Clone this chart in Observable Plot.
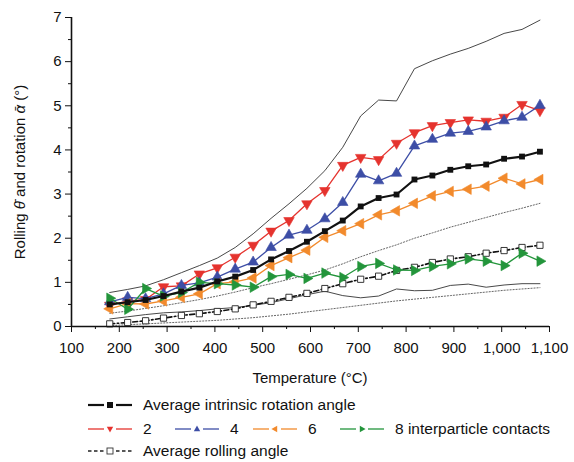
<!DOCTYPE html>
<html><head><meta charset="utf-8">
<script src="https://cdn.jsdelivr.net/npm/d3@7"></script>
<script src="https://cdn.jsdelivr.net/npm/@observablehq/plot@0.6"></script>
<style>
body{margin:0;background:#fff;font-family:"Liberation Sans",Arial,sans-serif;}
#wrap{position:relative;width:574px;height:462px;overflow:hidden;}
.leg{position:absolute;font-size:15.5px;line-height:18px;color:#111;display:flex;align-items:center;white-space:nowrap;height:18px;}
.leg svg{margin-right:11px;}
</style></head><body>
<div id="wrap"><div id="chart"></div><div id="legend"></div></div>
<script>
const temps = [180, 217.5, 255, 292.5, 330, 367.5, 405, 442.5, 480, 517.5, 555, 592.5, 630, 667.5, 705, 742.5, 780, 817.5, 855, 892.5, 930, 967.5, 1005, 1042.5, 1080];
const avgRotation = [0.50, 0.55, 0.60, 0.69, 0.79, 0.88, 1.02, 1.13, 1.28, 1.52, 1.71, 1.92, 2.16, 2.40, 2.72, 2.91, 2.99, 3.33, 3.42, 3.55, 3.63, 3.67, 3.80, 3.85, 3.96];
const contacts2 = [0.48, 0.58, 0.61, 0.90, 0.92, 1.19, 1.33, 1.57, 1.84, 2.16, 2.40, 2.78, 3.08, 3.65, 3.83, 3.78, 4.15, 4.39, 4.55, 4.62, 4.68, 4.65, 4.74, 5.03, 4.89];
const contacts4 = [0.56, 0.66, 0.63, 0.74, 0.93, 0.99, 1.12, 1.30, 1.46, 1.79, 2.07, 2.18, 2.44, 2.81, 3.45, 3.30, 3.47, 4.09, 4.24, 4.38, 4.42, 4.52, 4.66, 4.74, 5.01];
const contacts6 = [0.40, 0.52, 0.51, 0.58, 0.66, 0.74, 0.97, 1.01, 1.10, 1.38, 1.56, 1.73, 2.02, 2.17, 2.33, 2.53, 2.62, 2.79, 2.96, 3.06, 3.11, 3.18, 3.36, 3.23, 3.33];
const contacts8 = [0.64, 0.39, 0.86, 0.69, 0.77, 1.00, 0.97, 0.94, 0.89, 1.13, 1.18, 1.09, 1.21, 1.11, 1.36, 1.43, 1.28, 1.27, 1.36, 1.42, 1.53, 1.48, 1.38, 1.66, 1.48];
const avgRolling = [0.06, 0.09, 0.13, 0.19, 0.25, 0.29, 0.34, 0.40, 0.49, 0.57, 0.66, 0.75, 0.86, 0.97, 1.07, 1.14, 1.27, 1.34, 1.45, 1.53, 1.58, 1.66, 1.72, 1.79, 1.84];
const rotationUpper = [0.77, 0.84, 0.92, 1.06, 1.22, 1.38, 1.55, 1.79, 2.10, 2.45, 2.78, 3.13, 3.53, 4.06, 4.77, 5.13, 5.11, 5.84, 6.02, 6.17, 6.30, 6.46, 6.64, 6.73, 6.94];
const rotationLower = [0.17, 0.22, 0.27, 0.31, 0.33, 0.36, 0.40, 0.43, 0.48, 0.54, 0.63, 0.72, 0.80, 0.70, 0.65, 0.69, 0.85, 0.81, 0.82, 0.93, 0.96, 0.89, 0.94, 0.97, 0.97];
const rollingUpper = [0.30, 0.35, 0.41, 0.47, 0.54, 0.61, 0.69, 0.78, 0.88, 0.97, 1.07, 1.17, 1.28, 1.42, 1.58, 1.72, 1.85, 2.00, 2.12, 2.25, 2.36, 2.47, 2.58, 2.68, 2.79];
const rollingLower = [0.02, 0.04, 0.06, 0.08, 0.10, 0.12, 0.14, 0.17, 0.20, 0.24, 0.28, 0.33, 0.38, 0.43, 0.48, 0.53, 0.58, 0.62, 0.66, 0.70, 0.74, 0.78, 0.82, 0.85, 0.88];

const xMajor = [100, 200, 300, 400, 500, 600, 700, 800, 900, 1000, 1100];
const xMinor = [150, 250, 350, 450, 550, 650, 750, 850, 950, 1050];
const yMajor = [0, 1, 2, 3, 4, 5, 6, 7];
const yMinor = [0.5, 1.5, 2.5, 3.5, 4.5, 5.5, 6.5];
const xTitle = "Temperature (°C)";

const colors = {red: "#e5332e", blue: "#3d4ea6", orange: "#f28a2c", green: "#23953b", black: "#111111"};

const rows = vals => temps.map((t, i) => ({t, v: vals[i]}));

const series = [
  {vals: contacts2, color: colors.red, rotate: 180},
  {vals: contacts4, color: colors.blue, rotate: 0},
  {vals: contacts6, color: colors.orange, rotate: -90},
  {vals: contacts8, color: colors.green, rotate: 90}
];

const marks = [
  Plot.axisX({ticks: xMajor, tickSize: 6, tickPadding: 10, tickFormat: d3.format(","), label: null, fontSize: 15}),
  Plot.axisX({ticks: xMinor, tickSize: 3, tickFormat: () => "", label: null}),
  Plot.axisY({ticks: yMajor, tickSize: 6, tickPadding: 4, tickFormat: d3.format("d"), label: null, fontSize: 15}),
  Plot.axisY({ticks: yMinor, tickSize: 3, tickFormat: () => "", label: null}),
  Plot.line(rows(rotationUpper), {x: "t", y: "v", stroke: "#333", strokeWidth: 0.9}),
  Plot.line(rows(rotationLower), {x: "t", y: "v", stroke: "#333", strokeWidth: 0.9}),
  Plot.line(rows(rollingUpper), {x: "t", y: "v", stroke: "#555", strokeWidth: 0.9, strokeDasharray: "1.2,1.8"}),
  Plot.line(rows(rollingLower), {x: "t", y: "v", stroke: "#555", strokeWidth: 0.9, strokeDasharray: "1.2,1.8"}),
  Plot.line(rows(avgRolling), {x: "t", y: "v", stroke: "#111", strokeWidth: 1.6, strokeDasharray: "5,2.5,1.5,2.5"}),
  Plot.dot(rows(avgRolling), {x: "t", y: "v", symbol: "square", r: 3.5, fill: "white", stroke: "#222", strokeWidth: 0.9}),
];
for (const s of series) {
  marks.push(Plot.line(rows(s.vals), {x: "t", y: "v", stroke: s.color, strokeWidth: 1.3}));
  marks.push(Plot.dot(rows(s.vals), {x: "t", y: "v", symbol: "triangle", rotate: s.rotate, r: 3.9, fill: s.color, stroke: s.color, strokeWidth: 0.6}));
}
marks.push(Plot.line(rows(avgRotation), {x: "t", y: "v", stroke: "#111", strokeWidth: 2.2}));
marks.push(Plot.dot(rows(avgRotation), {x: "t", y: "v", symbol: "square", r: 3.3, fill: "#111"}));
marks.push(Plot.ruleY([0], {stroke: "#111", strokeWidth: 1.6}));
marks.push(Plot.ruleX([100], {stroke: "#111", strokeWidth: 1.6}));

const chart = Plot.plot({
  width: 574, height: 392,
  marginLeft: 71, marginRight: 25, marginTop: 17, marginBottom: 66,
  style: {fontFamily: "'Liberation Sans', Arial, sans-serif", fontSize: "15px", color: "#111", background: "white", overflow: "visible"},
  x: {domain: [100, 1100]},
  y: {domain: [0, 7]},
  marks
});
document.getElementById("chart").appendChild(chart);

// axis titles as real text
const ns = "http://www.w3.org/2000/svg";
const xt = document.createElementNS(ns, "text");
xt.setAttribute("x", 310); xt.setAttribute("y", 383);
xt.setAttribute("text-anchor", "middle");
xt.setAttribute("font-size", "15");
xt.setAttribute("fill", "#111");
xt.textContent = xTitle;
chart.appendChild(xt);

const yt = document.createElementNS(ns, "text");
yt.setAttribute("transform", "translate(25,172) rotate(-90)");
yt.setAttribute("text-anchor", "middle");
yt.setAttribute("font-size", "15");
yt.setAttribute("fill", "#111");
const parts = [["Rolling ", false], ["θ\u0304", true], [" and rotation ", false], ["α\u0304", true], [" (°)", false]];
for (const [txt, it] of parts) {
  const sp = document.createElementNS(ns, "tspan");
  sp.textContent = txt;
  if (it) sp.setAttribute("font-style", "italic");
  yt.appendChild(sp);
}
chart.appendChild(yt);

// legend
const legend = document.getElementById("legend");
function swatch(color, kind, rotate, dashed, thick) {
  const w = 44, h = 14;
  const dash = dashed ? ' stroke-dasharray="3.5,2.5"' : '';
  let mk;
  if (kind === "square") mk = `<rect x="${w/2-3}" y="${h/2-3}" width="6" height="6" fill="${color}"/>`;
  else if (kind === "open") mk = `<rect x="${w/2-3}" y="${h/2-3}" width="6" height="6" fill="white" stroke="#333" stroke-width="0.9"/>`;
  else mk = `<path d="M0,-3.6L3.2,2.2L-3.2,2.2Z" fill="${color}" transform="translate(${w/2},${h/2}) rotate(${rotate})"/>`;
  return `<svg width="${w}" height="${h}"><line x1="0" x2="${w/2-6}" y1="${h/2}" y2="${h/2}" stroke="${color}" stroke-width="${thick}"${dash}/><line x1="${w/2+6}" x2="${w}" y1="${h/2}" y2="${h/2}" stroke="${color}" stroke-width="${thick}"${dash}/>${mk}</svg>`;
}
const items = [
  {x: 88, y: 396, html: swatch("#111", "square", 0, false, 2.2) + "Average intrinsic rotation angle"},
  {x: 88, y: 420, html: swatch(colors.red, "tri", 180, false, 1.3) + "2"},
  {x: 175, y: 420, html: swatch(colors.blue, "tri", 0, false, 1.3) + "4"},
  {x: 253, y: 420, html: swatch(colors.orange, "tri", -90, false, 1.3) + "6"},
  {x: 340, y: 420, html: swatch(colors.green, "tri", 90, false, 1.3) + "8 interparticle contacts"},
  {x: 88, y: 442, html: swatch("#222", "open", 0, true, 1.4) + "Average rolling angle"}
];
for (const it of items) {
  const d = document.createElement("div");
  d.className = "leg";
  d.style.left = it.x + "px";
  d.style.top = it.y + "px";
  d.innerHTML = it.html;
  legend.appendChild(d);
}
</script>
</body></html>
